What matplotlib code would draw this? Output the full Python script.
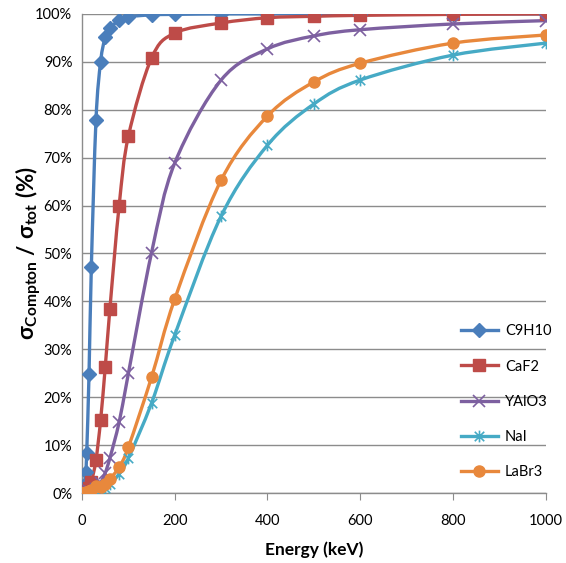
import numpy as np
import matplotlib
matplotlib.use("Agg")
from matplotlib import pyplot as plt
from matplotlib.path import Path
from matplotlib.patches import PathPatch
from matplotlib.lines import Line2D
from matplotlib import ticker

plt.rcParams['font.family'] = ['Lato', 'DejaVu Sans']
plt.rcParams['mathtext.fontset'] = 'custom'
plt.rcParams['mathtext.rm'] = 'Lato'
plt.rcParams['mathtext.bf'] = 'Lato:bold'
plt.rcParams['mathtext.it'] = 'Lato:italic'

# photon energy (keV)
energy = [1, 2, 3, 4, 5, 6, 8, 10, 15, 20, 30, 40, 50, 60, 80, 100,
          150, 200, 300, 400, 500, 600, 800, 1000]

# Compton / total cross section ratio (%)
c9h10 = [0.0, 0.1, 0.3, 0.6, 1.0, 1.9, 4.4, 8.4, 24.8, 47.2, 77.8, 90.0,
         95.2, 97.0, 98.7, 99.4, 99.8, 99.9, 100.0, 100.0, 100.0, 100.0, 100.0, 100.0]
caf2 = [0.0, 0.05, 0.1, 0.05, 0.1, 0.15, 0.25, 0.4, 1.0, 2.3, 6.9, 15.2,
        26.3, 38.4, 60.0, 74.5, 90.8, 96.0, 98.1, 99.2, 99.5, 99.7, 99.9, 100.0]
yalo3 = [0.0, 0.0, 0.05, 0.1, 0.1, 0.15, 0.2, 0.3, 0.5, 0.3, 0.8, 2.1,
         4.2, 7.3, 14.8, 25.0, 50.2, 68.9, 86.2, 92.7, 95.4, 96.7, 97.9, 98.6]
nai = [0.0, 0.0, 0.05, 0.05, 0.1, 0.1, 0.15, 0.2, 0.3, 0.5, 1.3, 0.7,
       1.1, 1.8, 4.0, 7.3, 18.8, 33.0, 57.8, 72.6, 81.2, 86.2, 91.4, 93.9]
labr3 = [0.0, 0.0, 0.05, 0.05, 0.1, 0.1, 0.15, 0.2, 0.4, 0.6, 1.5, 1.2,
         1.8, 2.9, 5.4, 9.6, 24.2, 40.5, 65.3, 78.7, 85.8, 89.7, 93.9, 95.6]

names = ["C9H10", "CaF2", "YAlO3", "NaI", "LaBr3"]
series = [c9h10, caf2, yalo3, nai, labr3]
colors = ["#4A7EBB", "#BE4B48", "#7D60A0", "#46AAC5", "#E8883C"]

# star marker (x plus vertical bar), like Excel's
star = Path([(-1, -1), (1, 1), (-1, 1), (1, -1), (0, -1.25), (0, 1.25)],
            [Path.MOVETO, Path.LINETO, Path.MOVETO, Path.LINETO, Path.MOVETO, Path.LINETO])
markers = [dict(marker="D", ms=7),
           dict(marker="s", ms=8),
           dict(marker="x", ms=8, mew=1.2),
           dict(marker=star, ms=8.5, mew=1.2, mfc="none"),
           dict(marker="o", ms=8)]


def smooth_path(x, y):
    # Excel-style smoothed line: Catmull-Rom turned into cubic Beziers
    pts = np.column_stack([x, y]).astype(float)
    n = len(pts)
    verts = [pts[0]]
    codes = [Path.MOVETO]
    for i in range(n - 1):
        p0 = pts[max(i - 1, 0)]
        p1 = pts[i]
        p2 = pts[i + 1]
        p3 = pts[min(i + 2, n - 1)]
        c1 = p1 + (p2 - p0) / 6.0
        c2 = p2 - (p3 - p1) / 6.0
        verts += [c1, c2, p2]
        codes += [Path.CURVE4] * 3
    return Path(verts, codes)


fig = plt.figure(figsize=(5.66, 5.63), dpi=100)
ax = fig.add_axes([0.145, 0.1243, 0.819, 0.851])

handles = []
for name, vals, col, mk in zip(names, series, colors, markers):
    ax.add_patch(PathPatch(smooth_path(energy, vals), fill=False, edgecolor=col,
                           lw=2.4, capstyle="round", joinstyle="round", zorder=3))
    ax.plot(energy, vals, linestyle="none", color=col, mec=col, zorder=4, **mk)
    handles.append(Line2D([], [], color=col, lw=2.4, mec=col, **mk))

ax.set_xlim(0, 1000)
ax.set_ylim(0, 100)
ax.xaxis.set_major_locator(ticker.MultipleLocator(200))
ax.yaxis.set_major_locator(ticker.MultipleLocator(10))
ax.yaxis.set_major_formatter(ticker.FuncFormatter(lambda v, p: f"{v:.0f}%"))

ax.grid(axis="y", color="#8C8C8C", lw=1.0)
ax.set_axisbelow(True)
for s in ["top", "right"]:
    ax.spines[s].set_visible(False)
for s in ["left", "bottom"]:
    ax.spines[s].set_color("#8C8C8C")
    ax.spines[s].set_linewidth(1.0)
ax.tick_params(axis="x", direction="out", length=5, color="#8C8C8C",
               labelsize=10.5, pad=10)
ax.tick_params(axis="y", length=0, labelsize=10.5, pad=7)

ax.set_xlabel("Energy (keV)", fontsize=12.5, fontweight="bold", labelpad=10)
ax.set_ylabel(r"$\mathbf{\sigma_{Compton}\ /\ \sigma_{tot}\ (\%)}$", fontsize=16)
ax.yaxis.set_label_coords(-0.085, 0.5)

ax.legend(handles, names, loc="upper left", bbox_to_anchor=(0.818, 0.352),
          borderaxespad=0, borderpad=0, frameon=False, fontsize=10.5,
          handlelength=2.5, labelspacing=1.45, handletextpad=0.5)

plt.savefig("out.png", dpi=100)
